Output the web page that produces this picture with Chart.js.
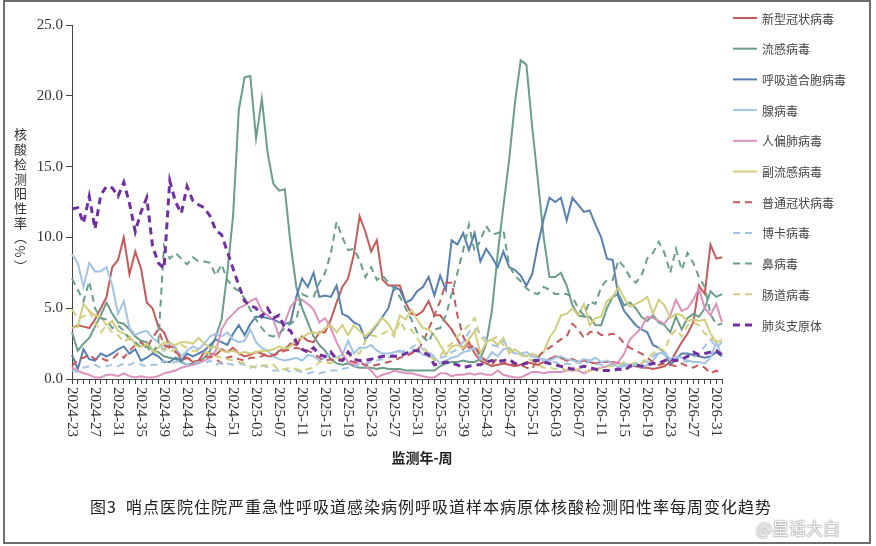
<!DOCTYPE html>
<html>
<head>
<meta charset="utf-8">
<script src="https://cdn.jsdelivr.net/npm/chart.js@4.4.1/dist/chart.umd.min.js"></script>
<style>
  html, body { margin: 0; padding: 0; background: #fff; }
  #wrap { position: relative; width: 876px; height: 546px; overflow: hidden; }
  #frame { position: absolute; left: 3px; top: 0; width: 864px; height: 540px; border: 2px solid #6e6e6e; pointer-events: none; }
  canvas { position: absolute; left: 0; top: 0; }
  #ytitle { position: absolute; left: 11px; top: 128px; writing-mode: vertical-rl; font: 13px "Noto Sans CJK SC"; color: #333; letter-spacing: 1.7px; }
  #caption { position: absolute; left: 90px; top: 494px; font: 16px "Noto Sans CJK SC"; color: #222; letter-spacing: 1px; white-space: nowrap; }
  #mark { position: absolute; left: 756px; top: 515px; font: 17px "Noto Sans CJK SC"; color: rgba(255,255,255,0.95); text-shadow: 0 0 2px #777, 0 0 1px #777; white-space: nowrap; }
</style>
</head>
<body>
<div id="wrap">
  <canvas id="chart" width="876" height="546"></canvas>
  <div id="ytitle">核酸检测阳性率（%）</div>
  <div id="caption">图3&nbsp;&nbsp;哨点医院住院严重急性呼吸道感染病例呼吸道样本病原体核酸检测阳性率每周变化趋势</div>
  <div id="mark">@星话大白</div>
  <div id="frame"></div>
</div>
<script>
// weeks: 2024-23 ... 2026-32, one point per week
const startYear = 2024, startWeek = 23, weekCount = 114;
const weeks = [];
for (let k = 0, y = startYear, w = startWeek; k < weekCount; k++) {
    weeks.push(y + '-' + String(w).padStart(2, '0'));
    w++;
    if (w > 52) { w = 1; y++; }
}

const yTicks = [0, 5, 10, 15, 20, 25];

// positive rate (%) per week
const covid = [
    3.6, 3.8, 3.7, 3.6, 4.2, 5.0, 5.8, 7.9, 8.4, 10.0,
    7.4, 9.0, 7.8, 5.4, 5.0, 3.7, 3.3, 2.3, 2.2, 1.3,
    1.5, 1.2, 1.3, 1.9, 1.8, 1.7, 2.1, 1.9, 2.2, 1.8,
    1.6, 1.7, 1.9, 1.8, 1.6, 1.6, 2.0, 2.1, 2.5, 2.4,
    3.0, 2.7, 2.6, 3.3, 3.3, 4.2, 5.4, 6.5, 7.1, 8.8,
    11.5, 10.4, 9.0, 9.8, 7.0, 6.6, 6.6, 6.6, 5.4, 4.6,
    4.5, 4.8, 5.5, 4.5, 4.5, 4.0, 3.5, 2.8, 2.1, 2.6,
    1.8, 1.3, 1.1, 0.9, 1.0, 1.1, 1.0, 0.9, 1.0, 1.2,
    1.1, 1.0, 1.2, 1.4, 1.6, 1.5, 1.3, 1.4, 1.2, 1.3,
    1.2, 1.1, 1.2, 1.2, 1.2, 1.1, 1.0, 1.0, 0.9, 0.8,
    0.8, 0.7, 0.8, 0.9, 1.2, 1.9, 2.6, 3.2, 4.0, 6.6,
    6.0, 9.5, 8.5, 8.6
];
const flu = [
    3.3, 2.0, 2.5, 2.9, 3.7, 4.5, 5.4, 4.6, 4.0, 3.9,
    3.5, 3.0, 2.7, 2.6, 2.0, 1.9, 1.6, 1.5, 1.4, 1.2,
    1.0, 1.1, 1.2, 1.5, 2.0, 3.0, 4.2, 7.5, 11.5, 19.0,
    21.3, 21.4, 17.0, 19.8, 16.0, 13.8, 13.3, 13.4, 9.5, 6.5,
    5.0, 4.0, 3.0, 2.4, 2.0, 1.4, 1.1, 1.0, 1.1, 0.9,
    0.8, 0.8, 0.8, 0.7, 0.8, 0.7, 0.7, 0.7, 0.6, 0.6,
    0.6, 0.6, 0.6, 0.6, 0.9, 1.1, 1.2, 1.2, 1.3, 1.2,
    1.2, 1.4, 2.5, 4.8, 8.8, 12.2, 15.5, 19.5, 22.5, 22.2,
    17.8, 14.0, 10.0, 7.2, 7.2, 7.5, 6.6, 5.2, 4.5, 4.4,
    4.4, 3.8, 3.8, 5.0, 5.8, 6.0, 5.2, 5.4, 5.0, 4.4,
    4.1, 4.5, 4.0, 3.8, 3.3, 4.4, 3.5, 4.3, 4.6, 4.4,
    5.0, 6.2, 5.8, 6.0
];
const rsv = [
    1.7, 0.7, 2.1, 1.4, 1.3, 1.8, 1.6, 1.8, 2.1, 2.3,
    1.8, 2.1, 1.3, 1.5, 1.8, 1.6, 1.2, 1.2, 1.5, 1.3,
    1.8, 1.6, 1.8, 2.0, 2.4, 2.8, 2.6, 2.4, 3.2, 3.8,
    3.1, 3.9, 4.4, 4.4, 4.3, 4.2, 4.0, 3.9, 4.0, 5.8,
    7.1, 6.5, 7.5, 5.8, 5.9, 5.8, 6.6, 4.6, 4.4, 4.0,
    3.8, 2.8, 3.3, 3.8, 4.4, 5.0, 6.5, 6.3, 5.4, 5.6,
    6.2, 6.5, 7.2, 5.9, 7.3, 6.3, 9.8, 9.5, 10.3, 9.1,
    10.3, 8.3, 9.2, 8.6, 7.9, 9.0, 7.9, 7.7, 7.3, 6.6,
    7.4, 9.5, 11.3, 12.8, 12.5, 12.8, 11.2, 12.8, 12.3, 11.8,
    11.9, 10.9, 10.0, 8.5, 8.4, 5.8, 4.8, 4.3, 3.8, 3.5,
    3.3, 2.4, 2.2, 1.9, 1.0, 1.4, 1.8, 1.8, 1.7, 1.6,
    1.5, 1.6, 1.9, 1.6
];
const adeno = [
    8.8, 8.2, 6.5, 8.2, 7.6, 7.6, 7.9, 6.6, 4.6, 5.5,
    3.6, 3.1, 3.3, 3.4, 2.9, 2.6, 2.0, 2.6, 2.2, 1.6,
    2.0, 2.3, 2.1, 2.5, 3.0, 3.2, 3.0, 3.3, 2.8, 2.6,
    2.7, 3.5, 2.6, 2.2, 2.0, 1.6, 1.4, 1.3, 1.4, 1.5,
    1.3, 1.7, 1.6, 1.3, 1.5, 1.8, 1.5, 1.7, 2.7, 1.8,
    2.2, 2.2, 2.4, 2.0, 1.8, 1.8, 1.9, 2.0, 1.8, 1.9,
    2.1, 1.7, 1.6, 1.5, 1.1, 1.3, 1.5, 1.6, 1.9, 2.0,
    2.2, 1.4, 1.3, 1.9, 1.6, 2.1, 2.2, 1.8, 1.8, 1.9,
    1.6, 1.5, 1.4, 1.3, 1.5, 1.6, 1.4, 1.3, 1.2, 1.4,
    1.3, 1.5, 1.2, 1.3, 1.1, 0.8, 1.1, 0.9, 1.0, 0.8,
    1.0, 1.3, 1.8, 1.9, 1.4, 1.6, 1.5, 1.3, 1.2, 1.2,
    1.1, 1.5, 2.6, 1.6
];
const hmpv = [
    0.8, 0.6, 0.4, 0.3, 0.1, 0.1, 0.3, 0.3, 0.2, 0.4,
    0.2, 0.1, 0.2, 0.1, 0.1, 0.2, 0.4, 0.5, 0.6, 0.8,
    0.9, 1.0, 1.1, 1.3, 1.5, 2.0, 3.5, 4.2, 4.6, 5.0,
    5.2, 5.5, 5.7, 4.8, 4.5, 4.2, 3.0, 4.0, 5.1, 5.6,
    5.6, 5.3, 4.9, 4.0, 4.3, 3.6, 2.6, 1.8, 1.2, 1.0,
    1.3, 0.9, 0.6, 0.1, 0.3, 0.4, 0.6, 0.5, 0.4, 0.4,
    0.3, 0.2, 0.1, 0.1, 0.4, 0.4, 0.2, 0.3, 0.3, 0.4,
    0.3, 0.4, 0.3, 0.3, 0.6, 0.3, 0.2, 0.1, 0.1, 0.3,
    0.5, 0.5, 0.4, 0.5, 0.5, 0.5, 0.6, 0.6, 0.6, 0.4,
    0.6, 0.7, 0.8, 0.9, 1.1, 1.2, 1.8, 2.8, 3.2, 3.6,
    4.4, 4.3, 4.1, 3.9, 4.5, 5.6, 4.8, 5.0, 5.6, 6.4,
    5.0, 4.5, 5.3, 4.0
];
const paraflu = [
    3.6, 3.7, 5.3, 4.8, 4.5, 4.4, 3.8, 4.1, 3.4, 3.2,
    3.0, 2.5, 2.3, 2.4, 2.0, 2.2, 2.6, 2.5, 2.4, 2.6,
    2.6, 2.5, 2.9, 2.5, 2.2, 2.3, 2.0, 1.9, 2.0, 1.8,
    1.9, 1.8, 1.9, 2.0, 2.0, 2.1, 2.3, 2.1, 2.3, 2.8,
    2.9, 3.2, 3.3, 3.2, 3.6, 3.8, 3.3, 3.8, 3.1, 3.8,
    3.4, 3.0, 3.4, 3.9, 4.3, 3.9, 3.2, 4.5, 4.2, 4.9,
    4.2, 3.6, 3.5, 3.1, 2.4, 1.7, 2.3, 2.4, 2.2, 2.8,
    3.4, 1.8, 2.6, 2.8, 2.4, 2.9, 1.8, 2.1, 1.8, 1.6,
    1.8, 1.6, 1.9, 2.9, 3.5, 4.5, 4.6, 5.0, 4.5, 5.3,
    3.8, 4.3, 4.4, 5.5, 5.8, 6.5, 5.7, 5.1, 5.3, 5.5,
    5.8, 4.6, 5.6, 5.2, 4.3, 4.6, 4.5, 4.1, 4.2, 4.1,
    4.2, 3.2, 2.6, 2.7
];
const hcov = [
    0.9, 1.4, 1.5, 1.7, 1.4, 1.5, 1.3, 1.4, 1.8, 1.5,
    2.0, 2.4, 2.6, 2.2, 2.9, 3.5, 2.4, 2.2, 1.9, 1.6,
    1.5, 1.3, 1.2, 1.5, 1.6, 1.4, 1.1, 1.5, 1.6, 1.4,
    1.3, 1.5, 1.5, 1.6, 1.8, 1.7, 1.8, 2.0, 2.1, 2.2,
    2.1, 2.0, 1.8, 1.5, 1.3, 1.4, 1.3, 1.4, 1.3, 1.2,
    1.1, 1.0, 0.9, 1.0, 1.1, 1.2, 1.3, 1.5, 1.6, 1.8,
    2.0, 2.6, 3.5, 4.5, 5.5, 6.8, 6.8, 4.5, 3.0, 2.2,
    2.4, 1.6, 1.3, 1.0, 1.5, 1.2, 1.0, 1.1, 1.0, 0.8,
    0.7, 1.5, 2.0, 2.2, 2.5, 2.8, 3.0, 3.9, 3.5, 2.9,
    3.3, 3.4, 3.1, 3.1, 3.2, 3.0, 2.5, 2.2, 2.0, 1.8,
    1.5, 1.2, 1.0, 1.1, 1.0, 0.9, 1.1, 0.9, 0.8, 1.0,
    0.8, 0.4, 0.6, 0.3
];
const boca = [
    0.6, 0.5, 0.8, 0.9, 1.0, 0.8, 0.9, 1.0, 0.9, 1.1,
    1.0, 1.2, 1.0, 0.9, 1.0, 1.0, 1.3, 1.1, 1.2, 1.3,
    1.0, 1.1, 1.2, 1.1, 1.3, 1.0, 1.2, 1.1, 1.0, 1.1,
    1.0, 0.8, 0.9, 1.0, 0.8, 0.6, 0.6, 0.7, 0.5, 0.6,
    0.5, 0.4, 0.5, 0.4, 0.5, 0.6, 0.6, 0.7, 0.8, 0.8,
    1.1, 1.1, 1.2, 1.3, 1.4, 1.5, 1.8, 1.9, 2.0, 2.2,
    2.5, 2.1, 1.9, 1.6, 1.5, 1.6, 1.9, 2.1, 2.6, 3.3,
    3.6, 3.2, 2.8, 2.4, 2.3, 2.7, 2.2, 1.7, 1.8, 1.6,
    1.6, 1.5, 1.3, 1.2, 1.2, 1.0, 1.1, 1.0, 1.2, 1.0,
    1.3, 1.1, 1.0, 0.9, 1.0, 0.8, 0.9, 1.0, 1.1, 1.3,
    1.2, 1.6, 1.9, 1.7, 1.4, 1.5, 1.3, 1.2, 1.5, 1.8,
    2.3, 2.8, 2.2, 2.6
];
const rhino = [
    7.1, 6.3, 5.5, 6.9, 5.0, 4.3, 4.2, 3.6, 3.8, 3.4,
    2.8, 2.6, 2.2, 2.3, 1.8, 2.5, 9.4, 8.5, 8.9, 8.5,
    8.1, 8.6, 8.3, 8.3, 8.2, 7.3, 8.1, 7.0, 6.5, 6.2,
    5.7, 4.9, 4.2, 3.6, 3.1, 3.0, 3.2, 3.6, 3.9, 4.2,
    6.0, 5.8, 5.8, 6.8, 7.5, 8.9, 11.1, 10.0, 9.1, 9.2,
    8.4, 7.2, 7.9, 7.0, 7.3, 6.8, 6.4, 5.8, 5.0, 4.2,
    3.3, 3.0, 2.6, 3.5, 3.6, 4.5, 6.0, 7.5, 9.1, 10.9,
    9.0, 9.8, 10.8, 10.2, 10.3, 10.5, 8.0, 7.3, 6.9, 6.4,
    6.1, 6.0, 6.5, 6.3, 6.0, 6.0, 6.0, 5.8, 5.0, 4.5,
    5.5, 5.3, 6.5, 7.0, 7.0, 8.4, 7.9, 7.2, 6.8, 7.3,
    8.5, 8.9, 9.7, 8.9, 7.5, 9.2, 7.7, 8.9, 8.2, 7.2,
    6.5, 4.6, 3.8, 3.9
];
const entero = [
    4.9, 4.3, 4.4, 4.8, 4.0, 3.3, 3.8, 3.3, 3.1, 2.6,
    2.9, 2.4, 2.2, 2.5, 2.0, 1.8, 2.2, 1.9, 2.1, 2.4,
    2.2, 2.0, 2.0, 1.9, 1.8, 1.6, 1.5, 1.4, 1.3, 1.2,
    1.1, 0.9, 0.8, 0.9, 1.0, 1.0, 0.6, 0.7, 0.8, 0.7,
    0.6, 0.7, 0.8, 1.2, 1.2, 1.1, 1.5, 1.4, 1.9, 1.8,
    1.8, 2.7, 3.1, 3.0, 3.2, 3.4, 3.0, 4.1, 3.4, 3.5,
    2.9, 2.3, 1.8, 1.3, 1.6, 2.2, 2.5, 3.0, 3.4, 3.8,
    4.3, 3.0, 2.6, 2.8, 3.0, 2.4, 2.0, 2.0, 1.7, 1.5,
    1.3, 1.0, 0.8, 0.8, 0.7, 0.8, 0.6, 0.6, 0.7, 0.5,
    0.6, 0.5, 0.8, 0.9, 0.9, 1.0, 1.2, 1.0, 1.2, 1.1,
    1.5, 1.8, 2.2, 2.0, 3.0, 3.5, 3.0, 3.8, 4.0, 3.8,
    3.2, 3.0, 2.6, 2.8
];
const myco = [
    12.0, 12.1, 11.0, 12.9, 10.6, 13.0, 13.6, 13.5, 12.9, 13.9,
    12.4, 10.4, 11.8, 12.8, 9.4, 8.2, 7.8, 14.0, 12.5, 11.7,
    13.6, 12.6, 12.3, 12.1, 11.5, 10.5, 10.2, 9.0, 7.8, 6.6,
    5.5, 5.2, 5.0, 4.4, 5.0, 4.3, 4.5, 3.6, 3.4, 2.6,
    2.1, 1.9, 2.2, 1.7, 1.6, 1.9, 1.4, 1.3, 1.9, 1.4,
    1.3, 1.3, 1.4, 1.5, 1.6, 1.6, 1.6, 1.6, 1.8, 2.0,
    2.0, 1.9, 1.7, 1.0, 1.1, 1.2, 1.1, 1.0, 0.8, 0.9,
    1.0, 1.0, 1.2, 1.3, 1.2, 1.3, 1.4, 1.1, 1.0, 1.1,
    1.3, 1.3, 1.2, 1.1, 1.0, 0.9, 0.8, 0.7, 0.8, 0.9,
    0.8, 0.7, 0.6, 0.6, 0.6, 0.7, 0.6, 0.9, 1.0, 0.9,
    1.0, 1.1, 1.1, 1.3, 1.4, 1.3, 1.4, 1.6, 1.9, 1.7,
    1.8, 1.9, 2.0, 1.7
];

const seriesNames = ['新型冠状病毒', '流感病毒', '呼吸道合胞病毒', '腺病毒', '人偏肺病毒', '副流感病毒',
                     '普通冠状病毒', '博卡病毒', '鼻病毒', '肠道病毒', '肺炎支原体'];
const seriesData = [covid, flu, rsv, adeno, hmpv, paraflu, hcov, boca, rhino, entero, myco];
const seriesColors = ['#C45A5A', '#6A9E88', '#5580B0', '#A3C4E4', '#DC92BE', '#D2CE7E',
                      '#C45A5A', '#A3C4E4', '#6A9E88', '#D2CE7E', '#7030A0'];
const seriesDashed = [false, false, false, false, false, false, true, true, true, true, true];

const datasets = seriesNames.map((name, i) => ({
    label: name,
    data: seriesData[i],
    borderColor: seriesColors[i],
    backgroundColor: seriesColors[i],
    borderWidth: i === 10 ? 3 : 2,
    borderDash: seriesDashed[i] ? [7, 5] : [],
    pointRadius: 0,
    fill: false,
    tension: 0,
    order: seriesNames.length - i   // later series drawn on top
}));

// rotated week labels under the axis, plus the axis title
const weekLabels = {
    id: 'weekLabels',
    afterDraw(chart) {
        const { ctx, scales: { x } } = chart;
        ctx.save();
        ctx.font = '15px "Liberation Serif"';
        ctx.fillStyle = '#333';
        ctx.textAlign = 'left';
        ctx.textBaseline = 'middle';
        weeks.forEach((w, i) => {
            if (i % 4 !== 0) return;
            ctx.save();
            ctx.translate(x.getPixelForValue(i), x.top + 8);
            ctx.rotate(Math.PI / 2);
            ctx.fillText(w, 0, 0);
            ctx.restore();
        });
        ctx.font = 'bold 14px "Noto Sans CJK SC"';
        ctx.textAlign = 'center';
        ctx.fillStyle = '#222';
        ctx.fillText('监测年-周', 422, 458);
        ctx.restore();
    }
};

// legend column on the right
const sideLegend = {
    id: 'sideLegend',
    afterDraw(chart) {
        const ctx = chart.ctx;
        ctx.save();
        ctx.font = '12px "Noto Sans CJK SC"';
        ctx.textBaseline = 'middle';
        ctx.textAlign = 'left';
        chart.data.datasets.forEach((ds, k) => {
            const y = 18 + k * 30.7;
            ctx.strokeStyle = ds.borderColor;
            ctx.lineWidth = ds.borderWidth;
            ctx.setLineDash(ds.borderDash);
            ctx.beginPath();
            ctx.moveTo(733, y);
            ctx.lineTo(757, y);
            ctx.stroke();
            ctx.setLineDash([]);
            ctx.fillStyle = '#444';
            ctx.fillText(ds.label, 762, y + 1);
        });
        ctx.restore();
    }
};

new Chart(document.getElementById('chart'), {
    type: 'line',
    data: { labels: weeks, datasets: datasets },
    options: {
        responsive: false,
        animation: false,
        layout: { padding: { left: 0, right: 154, top: 25, bottom: 0 } },
        plugins: { legend: { display: false }, tooltip: { enabled: false } },
        scales: {
            x: {
                type: 'category',
                offset: false,
                grid: { drawOnChartArea: false, drawTicks: true, tickLength: 5, color: '#444' },
                border: { display: true, color: '#444', width: 1 },
                ticks: { display: false, autoSkip: false },
                afterFit: s => { s.height = 167; }
            },
            y: {
                min: 0,
                max: 25,
                afterBuildTicks: s => { s.ticks = yTicks.map(v => ({ value: v })); },
                ticks: {
                    callback: v => v.toFixed(1),
                    font: { family: 'Liberation Serif', size: 15 },
                    color: '#333',
                    padding: 3
                },
                grid: { drawOnChartArea: false, tickLength: 6, color: '#444' },
                border: { display: true, color: '#444', width: 1 },
                afterFit: s => { s.width = 72; }
            }
        }
    },
    plugins: [weekLabels, sideLegend]
});
</script>
</body>
</html>
